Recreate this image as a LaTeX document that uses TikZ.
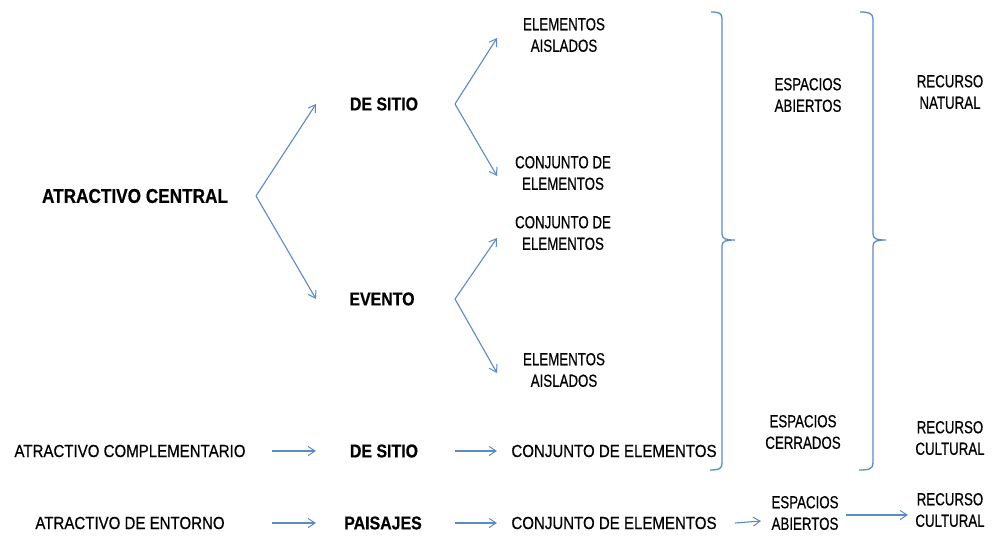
\documentclass[tikz,border=0pt]{standalone}
\usepackage{fontspec}
\setmainfont{Liberation Sans}[FakeStretch=0.86, FakeBold=0.5]
\newfontfamily\narrowfont{Liberation Sans}[FakeStretch=0.76, FakeBold=0.5]
\usetikzlibrary{arrows.meta}
\definecolor{lineblue}{RGB}{92,138,196}
\tikzset{
  lbl/.style={font=\fontsize{17.5}{21}\selectfont, align=center, inner sep=0pt},
  nlbl/.style={font=\narrowfont\fontsize{17.5}{21.5}\selectfont, align=center, inner sep=0pt},
  blbl/.style={font=\fontsize{18.5}{21}\selectfont\bfseries, align=center, inner sep=0pt},
  big/.style={font=\fontsize{20}{22}\selectfont\bfseries, align=center, inner sep=0pt},
  conn/.style={draw=lineblue, line width=1.1pt, -{Straight Barb[length=7pt,width=9pt,line width=1pt]}},
  brace/.style={draw=lineblue, line width=1.3pt}
}
\begin{document}
\begin{tikzpicture}[x=1pt,y=-1pt]
\useasboundingbox (0,0) rectangle (992,536);
% main tree
\node[big] (ac) at (135,196) {ATRACTIVO CENTRAL};
\node[blbl] (ds1) at (384,104) {DE SITIO};
\node[blbl] (ev) at (382,299) {EVENTO};
\node[nlbl] (ea1) at (564,35) {ELEMENTOS\\AISLADOS};
\node[nlbl] (cj1) at (563,173) {CONJUNTO DE\\ELEMENTOS};
\node[nlbl] (cj2) at (563,233) {CONJUNTO DE\\ELEMENTOS};
\node[nlbl] (ea2) at (564,370) {ELEMENTOS\\AISLADOS};
\node[nlbl] (eab1) at (808,95) {ESPACIOS\\ABIERTOS};
\node[nlbl] (rn) at (950,92) {RECURSO\\NATURAL};
\node[nlbl] (ecer) at (803,432) {ESPACIOS\\CERRADOS};
\node[nlbl] (rc1) at (950,438) {RECURSO\\CULTURAL};
% row 1
\node[lbl] (acomp) at (130,451) {ATRACTIVO COMPLEMENTARIO};
\node[blbl] (ds2) at (384,451) {DE SITIO};
\node[lbl] (cje1) at (614,451) {CONJUNTO DE ELEMENTOS};
% row 2
\node[lbl] (aent) at (130,523) {ATRACTIVO DE ENTORNO};
\node[blbl] (pai) at (383,523) {PAISAJES};
\node[lbl] (cje2) at (614,523) {CONJUNTO DE ELEMENTOS};
\node[nlbl] (eab2) at (805,513) {ESPACIOS\\ABIERTOS};
\node[nlbl] (rc2) at (950,510) {RECURSO\\CULTURAL};
% branch coordinates
\coordinate (v1) at (256,196);
\coordinate (t1) at (316,104);
\coordinate (t2) at (316,299);
\coordinate (v2) at (455,104);
\coordinate (t3) at (497,38);
\coordinate (t4) at (497,176);
\coordinate (v3) at (455,299);
\coordinate (t5) at (497,238);
\coordinate (t6) at (497,373);
\draw[conn] (v1) -- (t1);
\draw[conn] (v1) -- (t2);
\draw[conn] (v2) -- (t3);
\draw[conn] (v2) -- (t4);
\draw[conn] (v3) -- (t5);
\draw[conn] (v3) -- (t6);
% row arrows
\coordinate (r1a) at (272,451); \coordinate (r1b) at (316,451);
\coordinate (r1c) at (455,451); \coordinate (r1d) at (497,451);
\coordinate (r2a) at (272,523); \coordinate (r2b) at (316,523);
\coordinate (r2c) at (455,523); \coordinate (r2d) at (497,523);
\coordinate (r2e) at (735,523); \coordinate (r2f) at (761,521);
\coordinate (r2g) at (846,515); \coordinate (r2h) at (908,515);
\draw[conn] (r1a) -- (r1b);
\draw[conn] (r1c) -- (r1d);
\draw[conn] (r2a) -- (r2b);
\draw[conn] (r2c) -- (r2d);
\draw[conn] (r2e) -- (r2f);
\draw[conn] (r2g) -- (r2h);
% braces
\draw[brace] (711,12) .. controls (719,12) and (722,13) .. (722,19)
  -- (722,234) .. controls (722,239) and (726,240) .. (735,240)
  .. controls (726,240) and (722,241) .. (722,246)
  -- (722,463) .. controls (722,469) and (719,470) .. (710,470);
\draw[brace] (860,12) .. controls (868,12) and (873,13) .. (873,19)
  -- (873,234) .. controls (873,239) and (877,240) .. (886,240)
  .. controls (877,240) and (873,241) .. (873,246)
  -- (873,463) .. controls (873,469) and (869,470) .. (859,470);
\end{tikzpicture}
\end{document}
